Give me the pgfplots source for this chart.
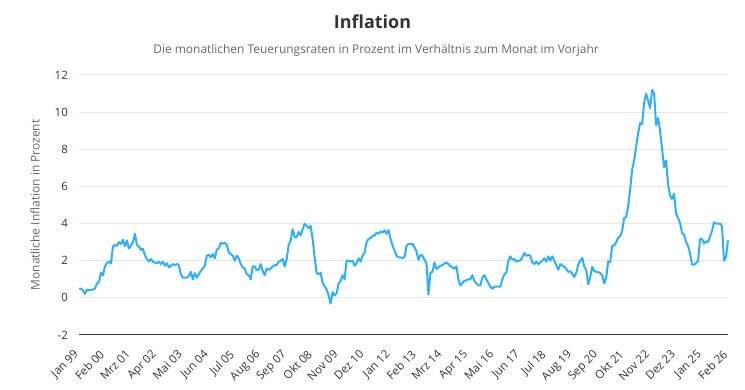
\documentclass[border=0pt]{standalone}
\usepackage{fontspec}
\setmainfont{Open Sans}
\usepackage{pgfplots}
\pgfplotsset{compat=1.18}
\definecolor{hcblue}{HTML}{2CAFFE}
\definecolor{txt}{HTML}{333333}
\definecolor{subc}{HTML}{666666}
\definecolor{gridc}{HTML}{E6E6E6}
\begin{document}
\begin{tikzpicture}
\useasboundingbox (0,0) rectangle (745bp,390bp);
\begin{axis}[
  at={(79bp,55bp)}, anchor=south west,
  scale only axis, width=649bp, height=260bp,
  xmin=0, xmax=325, ymin=-2, ymax=12,
  ytick={-2,0,2,4,6,8,10,12}, yticklabels={-2,0,2,4,6,8,10,12},
  xtick={0,13,...,325},
  xticklabels={Jan 99,Feb 00,Mrz 01,Apr 02,Mai 03,Jun 04,Jul 05,Aug 06,Sep 07,Okt 08,Nov 09,Dez 10,Jan 12,Feb 13,Mrz 14,Apr 15,Mai 16,Jun 17,Jul 18,Aug 19,Sep 20,Okt 21,Nov 22,Dez 23,Jan 25,Feb 26},
  major tick length=0pt,
  axis line style={draw=none},
  ymajorgrids, grid style={draw=gridc, line width=1bp},
  tick label style={font=\fontsize{11.5}{13}\selectfont, text=txt},
  x tick label style={anchor=north east, inner sep=0pt, xshift=-6bp, yshift=-14bp, rotate=45},
  y tick label style={anchor=east, inner sep=0pt, xshift=-11bp},
  ylabel={Monatliche Inflation in Prozent},
  every axis y label/.style={at={(axis description cs:-0.0678,0.5)}, anchor=center, rotate=90, font=\fontsize{12}{14}\selectfont, text=subc},
  clip=false,
]
\draw[draw=txt, line width=1bp] (rel axis cs:0,0) -- (rel axis cs:1,0);
\addplot[hcblue, line width=2bp, line join=round, no markers] coordinates {
(0,0.5)(1,0.5)(2,0.4)(3,0.22)(4,0.45)(5,0.42)(6,0.42)(7,0.45)(8,0.5)(9,0.78)
(10,0.85)(11,1.36)(12,1.22)(13,1.7)(14,1.87)(15,1.95)(16,1.85)(17,2.76)(18,2.85)(19,2.8)
(20,3.0)(21,2.9)(22,3.13)(23,2.78)(24,3.09)(25,2.67)(26,2.8)(27,3.0)(28,3.45)(29,2.85)
(30,2.78)(31,2.58)(32,2.64)(33,2.3)(34,2.09)(35,1.95)(36,2.09)(37,1.95)(38,1.9)(39,1.87)
(40,1.95)(41,1.82)(42,1.95)(43,1.73)(44,1.87)(45,1.64)(46,1.73)(47,1.82)(48,1.76)(49,1.82)
(50,1.76)(51,1.27)(52,1.09)(53,1.09)(54,1.09)(55,1.18)(56,1.4)(57,1.0)(58,1.33)(59,1.09)
(60,1.27)(61,1.45)(62,1.58)(63,1.73)(64,2.27)(65,2.31)(66,2.18)(67,2.36)(68,2.13)(69,2.6)
(70,2.67)(71,2.96)(72,2.91)(73,2.96)(74,2.85)(75,2.45)(76,2.36)(77,2.27)(78,2.0)(79,2.27)
(80,2.13)(81,1.82)(82,1.64)(83,1.58)(84,1.27)(85,1.22)(86,1.0)(87,1.69)(88,1.69)(89,1.49)
(90,1.51)(91,1.82)(92,1.45)(93,1.22)(94,1.58)(95,1.51)(96,1.58)(97,1.7)(98,1.76)(99,1.76)
(100,1.95)(101,2.0)(102,2.09)(103,1.69)(104,2.09)(105,2.85)(106,3.09)(107,3.69)(108,3.27)(109,3.27)
(110,3.55)(111,3.36)(112,3.69)(113,4.0)(114,3.87)(115,3.76)(116,3.87)(117,3.18)(118,2.18)(119,1.33)
(120,1.27)(121,1.36)(122,0.8)(123,0.62)(124,0.45)(125,0.13)(126,-0.31)(127,0.31)(128,0.13)(129,0.24)
(130,0.78)(131,0.91)(132,1.22)(133,1.0)(134,2.0)(135,2.0)(136,1.95)(137,2.0)(138,1.73)(139,1.87)
(140,2.13)(141,1.95)(142,2.27)(143,2.42)(144,3.0)(145,3.18)(146,3.22)(147,3.33)(148,3.36)(149,3.51)
(150,3.45)(151,3.58)(152,3.51)(153,3.64)(154,3.45)(155,3.64)(156,3.18)(157,2.82)(158,2.55)(159,2.27)
(160,2.18)(161,2.18)(162,2.15)(163,2.18)(164,2.8)(165,2.91)(166,2.91)(167,2.91)(168,2.73)(169,2.5)
(170,2.05)(171,2.31)(172,2.27)(173,2.05)(174,1.87)(175,0.18)(176,1.36)(177,1.4)(178,1.91)(179,1.55)
(180,1.64)(181,1.73)(182,1.76)(183,1.85)(184,1.91)(185,1.82)(186,1.7)(187,1.64)(188,1.58)(189,1.7)
(190,1.0)(191,0.67)(192,0.8)(193,0.91)(194,0.95)(195,1.0)(196,1.0)(197,1.22)(198,0.9)(199,0.78)
(200,0.67)(201,0.67)(202,1.09)(203,1.22)(204,1.0)(205,0.8)(206,0.6)(207,0.49)(208,0.6)(209,0.6)
(210,0.6)(211,0.6)(212,1.0)(213,1.27)(214,1.36)(215,2.0)(216,2.24)(217,2.05)(218,2.09)(219,1.95)
(220,2.0)(221,2.0)(222,2.18)(223,2.42)(224,2.27)(225,2.31)(226,2.27)(227,1.91)(228,1.82)(229,1.95)
(230,1.82)(231,1.91)(232,2.0)(233,2.13)(234,1.95)(235,2.24)(236,2.0)(237,2.24)(238,2.0)(239,1.76)
(240,1.51)(241,1.82)(242,1.73)(243,1.69)(244,1.56)(245,1.4)(246,1.43)(247,1.3)(248,1.13)(249,1.34)
(250,1.79)(251,2.0)(252,2.15)(253,1.7)(254,1.5)(255,0.72)(256,1.13)(257,1.67)(258,1.45)(259,1.4)
(260,1.38)(261,1.34)(262,1.2)(263,0.77)(264,1.08)(265,1.97)(266,1.92)(267,2.81)(268,2.81)(269,2.99)
(270,3.23)(271,3.32)(272,3.6)(273,4.3)(274,4.35)(275,4.93)(276,5.82)(277,6.9)(278,7.4)(279,8.15)
(280,8.87)(281,9.41)(282,9.37)(283,10.5)(284,10.99)(285,10.63)(286,10.22)(287,11.2)(288,11.0)(289,9.3)
(290,9.68)(291,9.0)(292,8.0)(293,7.04)(294,7.4)(295,6.1)(296,5.5)(297,5.32)(298,5.61)(299,4.53)
(300,4.3)(301,4.03)(302,3.49)(303,3.4)(304,3.0)(305,2.8)(306,2.4)(307,1.79)(308,1.79)(309,1.88)
(310,1.97)(311,3.17)(312,3.17)(313,2.92)(314,3.05)(315,3.0)(316,3.3)(317,3.6)(318,4.07)(319,4.0)
(320,4.0)(321,4.0)(322,3.85)(323,2.0)(324,2.2)(325,3.1)
};
\end{axis}
\node[font=\bfseries\fontsize{18}{21}\selectfont, text=txt] at (372.5bp,368bp) {Inflation};
\node[font=\fontsize{12}{14}\selectfont, text=subc] at (376bp,340bp) {Die monatlichen Teuerungsraten in Prozent im Verhältnis zum Monat im Vorjahr};
\end{tikzpicture}
\end{document}
